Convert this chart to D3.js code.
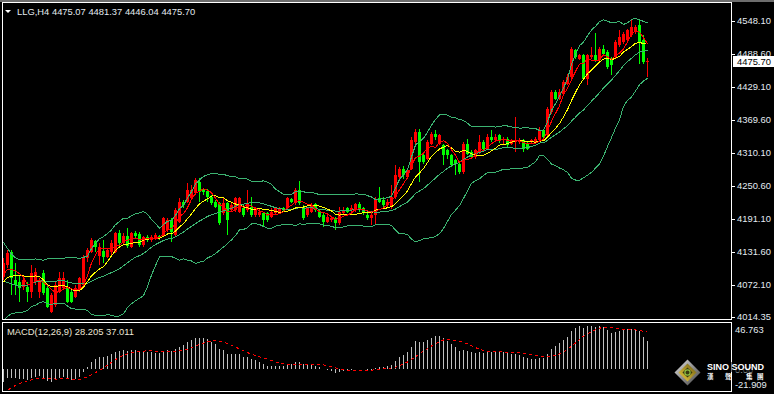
<!DOCTYPE html>
<html>
<head>
<meta charset="utf-8">
<script src="https://cdn.jsdelivr.net/npm/d3@7"></script>
<style>
body { margin: 0; background: #000; }
svg { display: block; }
text { font-family: "Liberation Sans", Arial, sans-serif; font-size: 9.4px; }
</style>
</head>
<body>
<script>
// LLG H4 candles (oldest first)
var openP = [4086.6,4107.6,4131.6,4080.6,4077.5,4068.5,4068.5,4059.5,4077.5,4059.5,
4092.6,4065.5,4023.5,4035.5,4059.5,4065.5,4065.5,4059.5,4050.5,4062.5,
4071.5,4119.6,4131.6,4150.9,4124.4,4132.8,4122.6,4130.4,4131.6,4164.7,
4146.7,4160.5,4140.7,4165.9,4162.9,4143.7,4158.7,4152.7,4154.5,4159.9,
4160.5,4170.7,4188.7,4161.7,4185.7,4221.8,4221.8,4227.8,4236.8,4257.8,
4242.8,4241.0,4230.8,4221.8,4218.8,4200.8,4218.8,4206.8,4206.8,4203.8,
4209.8,4206.8,4212.8,4197.7,4197.7,4200.8,4200.8,4194.7,4200.8,4203.8,
4209.8,4209.8,4226.0,4218.8,4242.8,4212.8,4197.7,4203.8,4217.0,4203.8,
4197.7,4185.7,4188.7,4191.7,4182.7,4200.8,4209.8,4206.8,4206.8,4217.0,
4209.8,4197.7,4191.7,4197.7,4227.8,4224.2,4215.2,4212.2,4230.2,4266.3,
4281.3,4266.3,4281.3,4329.4,4347.4,4305.4,4299.4,4326.4,4344.4,4326.4,
4323.4,4314.4,4305.4,4296.4,4290.3,4275.3,4326.4,4311.4,4302.4,4311.4,
4329.4,4317.4,4338.4,4332.4,4341.4,4332.4,4335.4,4326.4,4329.4,4329.4,
4332.4,4326.4,4329.4,4329.4,4332.4,4350.4,4341.4,4383.5,4419.6,4407.5,
4416.6,4434.6,4446.6,4494.7,4479.7,4485.7,4443.6,4482.7,4486.9,4476.7,
4497.7,4491.7,4479.7,4482.7,4503.7,4509.7,4512.7,4521.7,4527.7,4539.8,
4512.7,4475.07];
var highP = [4119.6,4134.6,4134.6,4110.6,4089.6,4086.6,4077.5,4107.6,4101.6,4083.6,
4098.6,4071.5,4056.5,4077.5,4095.6,4095.6,4080.6,4062.5,4071.5,4086.6,
4125.6,4137.6,4155.7,4152.7,4146.7,4152.7,4137.6,4152.7,4167.7,4170.7,
4164.7,4173.7,4167.7,4168.9,4167.7,4160.5,4161.7,4161.7,4164.7,4161.7,
4194.7,4191.7,4191.7,4209.8,4227.8,4224.8,4254.8,4251.8,4263.9,4263.9,
4245.8,4244.6,4233.8,4224.8,4221.8,4230.8,4221.8,4218.8,4230.8,4230.8,
4215.8,4242.8,4230.8,4212.8,4209.8,4203.8,4203.8,4209.8,4212.8,4212.8,
4212.8,4230.8,4229.0,4245.8,4259.1,4215.8,4212.8,4218.8,4220.0,4206.8,
4200.8,4197.7,4194.7,4194.7,4212.8,4212.8,4212.8,4215.8,4218.8,4220.6,
4212.8,4200.8,4203.8,4230.8,4248.2,4230.2,4227.2,4251.3,4287.3,4284.3,
4286.1,4281.3,4338.4,4353.4,4352.2,4308.4,4332.4,4347.4,4350.4,4344.4,
4326.4,4317.4,4308.4,4299.4,4293.3,4329.4,4335.4,4314.4,4317.4,4341.4,
4332.4,4344.4,4350.4,4344.4,4344.4,4338.4,4338.4,4335.4,4374.5,4336.6,
4335.4,4329.4,4335.4,4338.4,4356.5,4353.4,4392.5,4422.6,4422.6,4425.6,
4440.6,4452.6,4500.7,4497.7,4488.7,4488.7,4488.7,4500.7,4526.5,4500.7,
4503.7,4494.7,4482.7,4512.7,4530.7,4527.7,4533.7,4551.8,4539.8,4548.8,
4521.7,4481.37];
var lowP = [4080.6,4101.6,4053.5,4053.5,4041.5,4062.5,4041.5,4047.5,4071.5,4047.5,
4053.5,4029.5,4020.5,4032.5,4056.5,4062.5,4038.5,4038.5,4047.5,4059.5,
4068.5,4113.6,4128.6,4131.6,4107.6,4110.6,4119.6,4125.6,4128.6,4140.7,
4143.7,4137.6,4137.6,4156.9,4140.7,4140.7,4149.7,4149.7,4152.7,4152.7,
4158.7,4167.7,4149.7,4160.5,4182.7,4209.8,4218.8,4224.8,4233.8,4221.8,
4233.8,4221.8,4215.8,4209.8,4179.7,4197.7,4161.7,4203.8,4203.8,4200.8,
4194.7,4203.8,4194.7,4194.7,4194.7,4176.7,4185.7,4191.7,4197.7,4200.8,
4203.8,4206.8,4218.8,4215.8,4215.8,4188.7,4194.7,4200.8,4203.8,4191.7,
4176.7,4182.7,4185.7,4170.7,4179.7,4197.7,4200.8,4203.8,4203.8,4203.8,
4197.7,4188.7,4179.7,4179.7,4218.8,4209.2,4212.2,4209.2,4227.2,4263.3,
4263.3,4263.3,4278.3,4326.4,4257.3,4290.3,4296.4,4323.4,4332.4,4323.4,
4287.3,4299.4,4284.3,4269.3,4272.3,4272.3,4305.4,4299.4,4299.4,4308.4,
4314.4,4314.4,4329.4,4329.4,4328.2,4326.4,4320.4,4323.4,4311.4,4326.4,
4311.4,4314.4,4326.4,4326.4,4329.4,4335.4,4338.4,4380.5,4404.5,4404.5,
4413.5,4431.6,4443.6,4479.7,4476.7,4440.6,4431.6,4479.7,4473.6,4473.6,
4485.7,4461.6,4449.6,4479.7,4500.7,4506.7,4509.7,4518.7,4524.7,4470.6,
4470.6,4446.04];
var closeP = [4110.6,4128.6,4083.6,4071.5,4065.5,4080.6,4059.5,4092.6,4094.4,4077.5,
4056.5,4032.5,4053.5,4071.5,4083.6,4083.6,4041.5,4041.5,4065.5,4083.6,
4119.6,4134.6,4152.7,4140.7,4140.7,4122.6,4134.6,4146.7,4164.7,4146.7,
4160.5,4142.5,4164.7,4159.9,4143.7,4158.7,4152.7,4158.7,4161.7,4155.7,
4191.7,4188.7,4167.7,4206.8,4221.8,4215.8,4242.8,4242.8,4260.9,4239.8,
4239.8,4230.8,4218.8,4212.8,4182.7,4218.8,4188.7,4215.8,4227.8,4227.8,
4197.7,4215.8,4197.7,4209.8,4203.8,4188.7,4188.7,4203.8,4209.8,4209.8,
4206.8,4227.8,4221.8,4242.8,4218.8,4191.7,4209.8,4215.8,4206.8,4194.7,
4185.7,4194.7,4191.7,4182.7,4203.8,4206.8,4203.8,4209.8,4217.0,4206.8,
4200.8,4191.7,4197.7,4226.6,4221.8,4215.2,4221.2,4230.2,4269.3,4281.3,
4269.3,4278.3,4332.4,4347.4,4293.3,4293.3,4329.4,4344.4,4338.4,4341.4,
4305.4,4305.4,4287.3,4290.3,4275.3,4326.4,4308.4,4302.4,4314.4,4329.4,
4317.4,4338.4,4332.4,4338.4,4332.4,4335.4,4323.4,4332.4,4333.6,4333.6,
4317.4,4317.4,4332.4,4335.4,4350.4,4338.4,4389.5,4419.6,4407.5,4419.6,
4437.6,4446.6,4497.7,4482.7,4485.7,4443.6,4485.7,4486.9,4476.7,4496.5,
4488.7,4464.6,4467.6,4509.7,4518.7,4524.7,4530.7,4536.8,4536.8,4509.7,
4473.6,4475.70];
// closes before the visible window, estimated so the indicators start where the picture shows
var prevClose = [4172,4165,4178,4170,4182,4175,4168,4180,4186,4178,
4170,4175,4165,4172,4160,4168,4158,4162,4155,4160,4158,
4170,4140,4120,4100,4055,4040,4030,4050,4045,4045,
4050,4058,4062,4070,4080,4078,4088,4082,4092];

var priceTicks = [4548.10, 4488.60, 4429.10, 4369.60, 4310.10, 4250.60, 4191.10, 4131.60, 4072.10, 4014.35];
var macdMax = 46.763, macdMin = -21.909;
var macdTitle = "MACD(12,26,9) 28.205 37.011";
var symbol = "LLG,H4";

var W = 774, H = 394;
var n = closeP.length;
var txtCol = "#e4ebf2";

var svg = d3.select("body").append("svg")
	.attr("width", W)
	.attr("height", H)
	.style("background", "#000");

var defs = svg.append("defs");
defs.append("clipPath").attr("id", "clipMain")
  .append("rect").attr("x", 3).attr("y", 4).attr("width", 728).attr("height", 316);
defs.append("clipPath").attr("id", "clipMacd")
  .append("rect").attr("x", 3).attr("y", 324).attr("width", 728).attr("height", 67);

var x = d3.scaleLinear().domain([0, n - 1]).range([3.5, 647.5]);
var y = d3.scaleLinear().domain([4008.4, 4580.2]).range([320, 3]);
var ym = d3.scaleLinear().domain([macdMin, macdMax]).range([391, 323]);

// indicators: MA5 red, MA10 yellow, Bollinger(20,2), MACD(12,26,9)
var all = prevClose.concat(closeP), off = prevClose.length;
var ma5 = [], ma10 = [], bbMid = [], bbUp = [], bbLo = [];
closeP.forEach(function(c, i) {
	var k = off + i;
	ma5.push(d3.mean(all.slice(k - 4, k + 1)));
	ma10.push(d3.mean(all.slice(k - 9, k + 1)));
	var w = all.slice(k - 19, k + 1), m = d3.mean(w);
	var sd = Math.sqrt(d3.mean(w, function(v) { return (v - m) * (v - m); }));
	bbMid.push(m); bbUp.push(m + 2 * sd); bbLo.push(m - 2 * sd);
});
var e12, e26, macdAll = [];
all.forEach(function(c, k) {
	e12 = k ? e12 + (c - e12) * 2 / 13 : c;
	e26 = k ? e26 + (c - e26) * 2 / 27 : c;
	macdAll.push(e12 - e26);
});
var macd = [], signal = [];
closeP.forEach(function(c, i) {
	var k = off + i;
	macd.push(macdAll[k]);
	signal.push(d3.mean(macdAll.slice(k - 8, k + 1)));
});

// window strip
svg.append("rect").attr("x", 0).attr("y", 0).attr("width", W).attr("height", 2).attr("fill", "#6d6d6d");

var idx = d3.range(n);
var gMain = svg.append("g").attr("clip-path", "url(#clipMain)");
function col(i) { return closeP[i] >= openP[i] ? "#ff0000" : "#00ff00"; }

gMain.selectAll(".wick").data(idx).enter().append("line")
	.attr("class", "wick")
	.attr("x1", function(i) { return x(i); })
	.attr("x2", function(i) { return x(i); })
	.attr("y1", function(i) { return y(highP[i]); })
	.attr("y2", function(i) { return y(lowP[i]); })
	.attr("stroke", col)
	.attr("shape-rendering", "crispEdges");

gMain.selectAll(".body").data(idx).enter().append("rect")
	.attr("class", "body")
	.attr("x", function(i) { return x(i) - 1.5; })
	.attr("width", 3)
	.attr("y", function(i) { return y(Math.max(openP[i], closeP[i])); })
	.attr("height", function(i) { return Math.max(1, Math.abs(y(openP[i]) - y(closeP[i]))); })
	.attr("fill", col)
	.attr("shape-rendering", "crispEdges");

var line = d3.line().x(function(d, i) { return x(i); }).y(function(d) { return y(d); });
[[bbUp, "#3cb371"], [bbMid, "#3cb371"], [bbLo, "#3cb371"], [ma10, "#ffff00"], [ma5, "#ff0000"]].forEach(function(s) {
	gMain.append("path")
		.attr("d", line(s[0]))
		.attr("fill", "none")
		.attr("stroke", s[1])
		.attr("stroke-width", 1)
		.attr("shape-rendering", "crispEdges");
});

// MACD pane
var gMacd = svg.append("g").attr("clip-path", "url(#clipMacd)");
gMacd.selectAll(".hist").data(idx).enter().append("rect")
	.attr("class", "hist")
	.attr("x", function(i) { return x(i) - 0.5; })
	.attr("width", 1)
	.attr("y", function(i) { return Math.min(ym(0), ym(macd[i])); })
	.attr("height", function(i) { return Math.abs(ym(macd[i]) - ym(0)); })
	.attr("fill", "#c0c0c0")
	.attr("shape-rendering", "crispEdges");
gMacd.append("path")
	.attr("d", d3.line().x(function(d, i) { return x(i); }).y(function(d) { return ym(d); })(signal))
	.attr("fill", "none")
	.attr("stroke", "#ff0000")
	.attr("stroke-dasharray", "3,3")
	.attr("shape-rendering", "crispEdges");

// frames
var fr = svg.append("g").attr("stroke", "#fff").attr("fill", "none").attr("shape-rendering", "crispEdges");
fr.append("rect").attr("x", 2.5).attr("y", 2.5).attr("width", 729).attr("height", 317);
fr.append("rect").attr("x", 2.5).attr("y", 322.5).attr("width", 729).attr("height", 69);

// price axis
var ax = svg.append("g");
priceTicks.forEach(function(p) {
	ax.append("line").attr("x1", 732).attr("x2", 735).attr("y1", Math.round(y(p)) + 0.5).attr("y2", Math.round(y(p)) + 0.5)
		.attr("stroke", "#fff");
	ax.append("text").attr("x", 737).attr("y", y(p) + 3.4).attr("fill", txtCol).text(p.toFixed(2));
});
var last = closeP[n - 1];
ax.append("rect").attr("x", 733).attr("y", Math.round(y(last)) - 5).attr("width", 41).attr("height", 11).attr("fill", "#fff");
ax.append("text").attr("x", 737).attr("y", y(last) + 3.6).attr("fill", "#000").text(last.toFixed(2));

// macd axis labels (the zero label sits under the logo, as in the picture)
ax.append("text").attr("x", 735).attr("y", 332.7).attr("fill", txtCol).text(macdMax.toFixed(3));
ax.append("text").attr("x", 735).attr("y", ym(0) + 3.3).attr("fill", "#9aa3aa").text("0.00");
ax.append("text").attr("x", 735).attr("y", 388).attr("fill", txtCol).text(macdMin.toFixed(3));

// titles
svg.append("path").attr("d", "M5,10 L11,10 L8,13 Z").attr("fill", "#fff");
svg.append("text").attr("x", 17).attr("y", 15.3).attr("fill", txtCol)
	.text(symbol + "  " + [openP[n - 1], highP[n - 1], lowP[n - 1], closeP[n - 1]].map(function(v) { return v.toFixed(2); }).join(" "));
svg.append("text").attr("x", 7).attr("y", 335).attr("fill", "#ece6d6").text(macdTitle);

// logo
var lg = defs.append("linearGradient").attr("id", "gold").attr("x1", 0).attr("y1", 1).attr("x2", 1).attr("y2", 0);
lg.append("stop").attr("offset", "0").attr("stop-color", "#f0d040");
lg.append("stop").attr("offset", "1").attr("stop-color", "#6a5a10");
var lg2 = defs.append("linearGradient").attr("id", "silver").attr("x1", 0).attr("y1", 0).attr("x2", 1).attr("y2", 1);
lg2.append("stop").attr("offset", "0").attr("stop-color", "#e0e0e0");
lg2.append("stop").attr("offset", "1").attr("stop-color", "#404040");
var cx = 687.5, cy = 372.5;
function diamond(r) { return "M" + cx + "," + (cy - r) + " L" + (cx + r) + "," + cy + " L" + cx + "," + (cy + r) + " L" + (cx - r) + "," + cy + " Z"; }
svg.append("path").attr("d", diamond(13)).attr("fill", "url(#silver)");
svg.append("path").attr("d", diamond(9)).attr("fill", "url(#gold)");
svg.append("path").attr("d", diamond(5)).attr("fill", "#3a3a10");
svg.append("circle").attr("cx", cx).attr("cy", cy).attr("r", 2.6).attr("fill", "none").attr("stroke", "#8fc040").attr("stroke-width", 1.2);
svg.append("rect").attr("x", 705).attr("y", 362).attr("width", 60).attr("height", 10).attr("fill", "#000").attr("opacity", 0.55);
svg.append("text").attr("x", 707).attr("y", 370).attr("fill", "#fff").style("font-weight", "bold").style("font-size", "9px").text("SINO SOUND");
[["漢", 707], ["聲", 725], ["集", 746], ["團", 757]].forEach(function(c) {
	svg.append("text").attr("x", c[1]).attr("y", 379).attr("fill", "#fff")
		.style("font-family", "'Noto Sans CJK TC'").style("font-size", "6.5px").style("font-weight", "bold").text(c[0]);
});
</script>
</body>
</html>
